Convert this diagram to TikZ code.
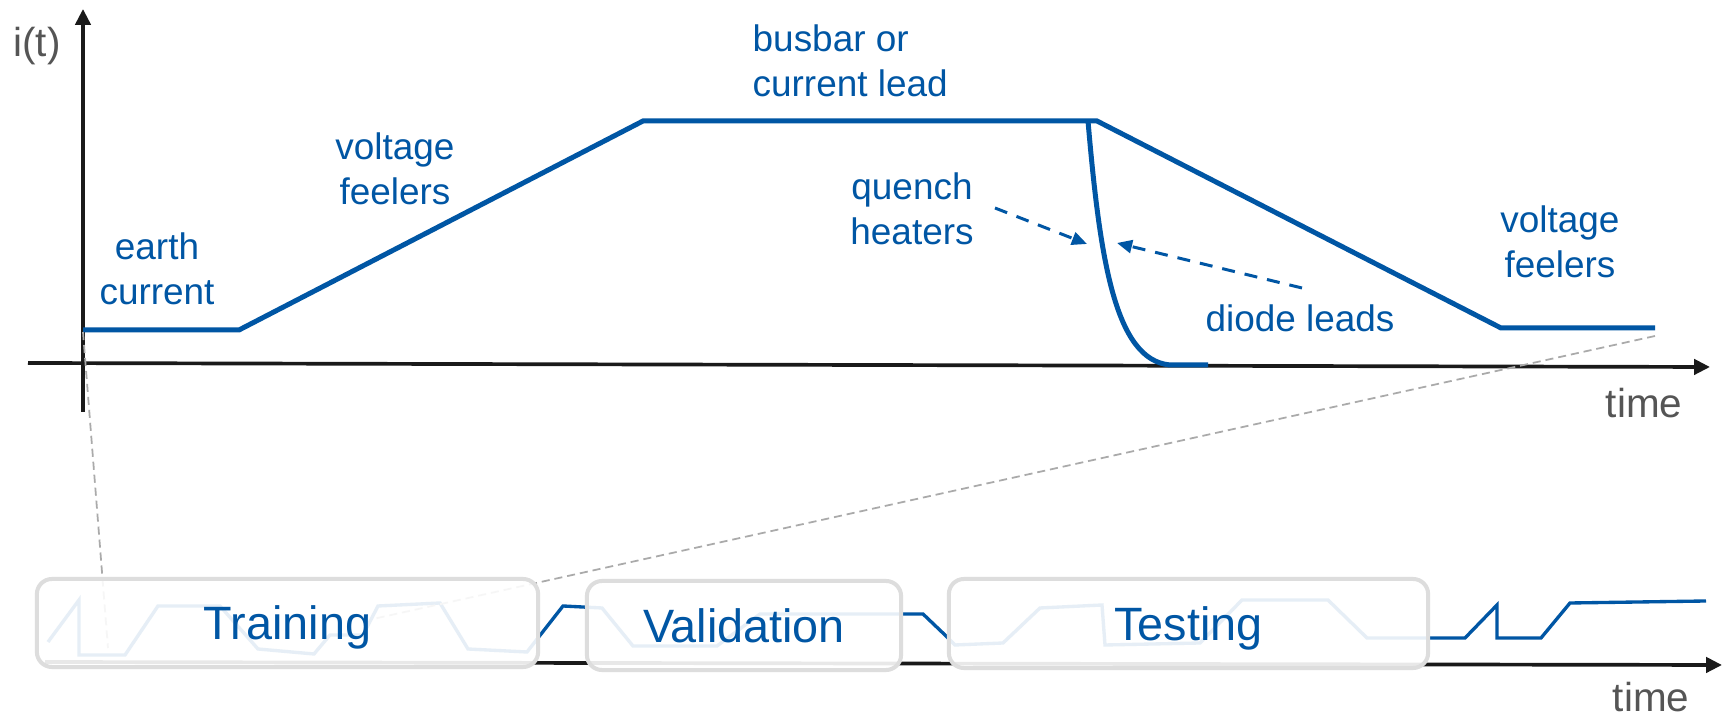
\documentclass[tikz,border=0pt]{standalone}
\usepackage{fontspec}
\setmainfont{Liberation Sans}
\usetikzlibrary{arrows.meta}
\definecolor{sigblue}{RGB}{0,86,164}
\definecolor{axgray}{RGB}{26,26,26}
\definecolor{txtgray}{RGB}{85,85,85}
\definecolor{zoomgray}{RGB}{170,170,170}
\definecolor{boxgray}{RGB}{221,221,221}
\begin{document}
\begin{tikzpicture}[x=0.01cm,y=-0.01cm,
  axis/.style={draw=axgray,line width=1.05pt,-{Triangle[length=4.5pt,width=4.3pt]}},
  signal/.style={draw=sigblue,line width=1.42pt,line join=miter},
  lowsignal/.style={draw=sigblue,line width=0.95pt},
  lbl/.style={text=sigblue,font=\fontsize{10.5}{12.8}\selectfont,inner sep=0pt,align=center,anchor=base},
  axlbl/.style={text=txtgray,font=\fontsize{11.5}{13}\selectfont,inner sep=0pt,anchor=base},
  hint/.style={draw=sigblue,line width=0.85pt,dash pattern=on 3.7pt off 2.85pt,-{Triangle[length=4.3pt,width=3.7pt]}},
  zoomline/.style={draw=zoomgray,line width=0.5pt,dash pattern=on 2.3pt off 1.4pt},
  setbox/.style={draw=boxgray,line width=1.14pt,rounded corners=4.3pt,fill=white,fill opacity=0.9,text opacity=1,text=sigblue,font=\fontsize{13.3}{15}\selectfont,text height=9.6pt,text depth=0pt,inner sep=0pt}
]
\useasboundingbox (0,0) rectangle (1723,716);
\fill[white] (0,0) rectangle (1723,716);

% ---------- top plot ----------
\coordinate (yb) at (83,412);
\coordinate (yt) at (83,9);
\coordinate (xl) at (28,363);
\coordinate (xr) at (1710,367);
\draw[axis] (yb) -- (yt);
\draw[axis] (xl) -- (xr);

\coordinate (s0) at (83,330);
\coordinate (s1) at (239,330);
\coordinate (s2) at (643,121);
\coordinate (s3) at (1097,121);
\coordinate (s4) at (1501,328);
\coordinate (s5) at (1655,328);
\draw[signal] (s0) -- (s1) -- (s2) -- (s3) -- (s4) -- (s5);

\coordinate (q0) at (1088,121);
\coordinate (q1) at (1170,365);
\coordinate (q2) at (1208,365);
\draw[signal] (q0) .. controls (1100,260) and (1115,360) .. (q1) -- (q2);

\node[axlbl] (it) at (37,57) {i(t)};
\node[axlbl] (time1) at (1644,418) {time};

% multi-line labels: anchor=base is the baseline of the last line
\node[lbl] (earth) at (157,305) {earth\\current};
\node[lbl] (volt1) at (395,205) {voltage\\feelers};
\node[lbl,align=left,anchor=base west] (busbar) at (752,97) {busbar or\\current lead};
\node[lbl] (quench) at (912,245) {quench\\heaters};
\node[lbl] (diode) at (1300,332) {diode leads};
\node[lbl] (volt2) at (1560,278) {voltage\\feelers};

\coordinate (qa) at (995,208);
\coordinate (qb) at (1087,244);
\coordinate (da) at (1302,288);
\coordinate (db) at (1117,243);
\draw[hint] (qa) -- (qb);
\draw[hint] (da) -- (db);

% ---------- bottom plot ----------
\coordinate (bl) at (45,662);
\coordinate (br) at (1722,665);
\draw[axis] (bl) -- (br);

\draw[lowsignal] (48,642) -- (79,600) -- (79,655) -- (125,655) -- (158,606) -- (220,606)
  -- (258,649) -- (314,654) -- (330,635) -- (363,635) -- (378,606) -- (440,603)
  -- (468,649) -- (527,652) -- (563,606) -- (602,608) -- (633,646) -- (717,646)
  -- (760,614) -- (923,614) -- (945,635) -- (955,645) -- (1003,643) -- (1040,608)
  -- (1102,605) -- (1105,645) -- (1200,643) -- (1242,600) -- (1328,600) -- (1367,638)
  -- (1465,638) -- (1497,605) -- (1497,638) -- (1541,638) -- (1570,603) -- (1706,601);

\node[axlbl] (time2) at (1651,712) {time};

% ---------- zoom lines ----------
\coordinate (z1a) at (83,332);
\coordinate (z1b) at (108,648);
\coordinate (z2a) at (1655,336);
\coordinate (z2b) at (373,619);
\draw[zoomline] (z1a) -- (z1b);
\draw[zoomline] (z2a) -- (z2b);

% ---------- data split boxes ----------
\node[setbox,minimum width=5.01cm,minimum height=0.88cm] (train) at (287.5,623) {Training};
\node[setbox,minimum width=3.14cm,minimum height=0.89cm] (valid) at (744,625.5) {Validation};
\node[setbox,minimum width=4.79cm,minimum height=0.89cm] (test) at (1188.5,623.5) {Testing};
\end{tikzpicture}
\end{document}
